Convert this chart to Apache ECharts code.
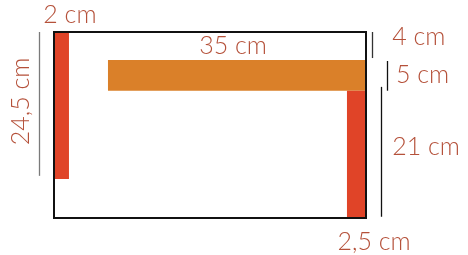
<!DOCTYPE html>
<html>
<head>
<meta charset="utf-8">
<script src="https://cdn.jsdelivr.net/npm/echarts@6/dist/echarts.min.js"></script>
<style>
  html, body { margin: 0; padding: 0; background: #fff; }
  #chart { width: 468px; height: 255px; }
</style>
</head>
<body>
<div id="chart"></div>
<script>
// drawing units (schematic, not to scale)
var frameSize = [50, 30];
var blockNames = ['left post', 'beam', 'right post'];
var blockX0 = [0, 8.65, 46.95];
var blockX1 = [2.4, 50, 50];
var blockY0 = [0, 4.52, 9.47];
var blockY1 = [23.7, 9.47, 30];

// dimension lines
var dimX = [-2.45, 50.95, 53.4, 52.4];
var dimY0 = [0, 0, 4.68, 8.85];
var dimY1 = [23.2, 4.2, 9.47, 29.8];

// labels
var dimLabels = ['2 cm', '24,5 cm', '35 cm', '4 cm', '5 cm', '21 cm', '2,5 cm'];

var blockColors = ['#e04428', '#da8029', '#e04428'];
var lineColors = ['#7a7a7a', '#333', '#111', '#111'];
// label anchors [x, y, align, rotate]
var labelPos = [
    [2.55, -2.75, 'center', 0],
    [28.7, 2.25, 'center', 0],
    [54.2, 0.8, 'left', 0],
    [54.8, 7.0, 'left', 0],
    [54.2, 18.5, 'left', 0],
    [51.3, 33.9, 'center', 0],
    [-5.35, 11.2, 'center', 90]
];
var labelOrder = [0, 2, 3, 4, 5, 6, 1];

function CF_Diagram(_domID){
    var myChart = echarts.init(document.getElementById(_domID));
    var option = {
        animation: false,
        grid: {
            left: 54,
            top: 32,
            width: 312,
            height: 186
        },
        xAxis: {type: 'value', min: 0, max: frameSize[0], show: false},
        yAxis: {type: 'value', min: 0, max: frameSize[1], inverse: true, show: false},
        series: [
            {
                type: 'custom',
                name: 'blocks',
                clip: false,
                data: blockNames.map(function (n, i) {
                    return [blockX0[i], blockY0[i], blockX1[i], blockY1[i]];
                }),
                renderItem: function (params, api) {
                    var p0 = api.coord([api.value(0), api.value(1)]);
                    var p1 = api.coord([api.value(2), api.value(3)]);
                    return {
                        type: 'rect',
                        shape: {x: p0[0], y: p0[1], width: p1[0] - p0[0], height: p1[1] - p0[1]},
                        style: {fill: blockColors[params.dataIndex]}
                    };
                }
            },
            {
                type: 'custom',
                name: 'frame',
                clip: false,
                z: 5,
                data: [[0, 0, frameSize[0], frameSize[1]]],
                renderItem: function (params, api) {
                    var p0 = api.coord([api.value(0), api.value(1)]);
                    var p1 = api.coord([api.value(2), api.value(3)]);
                    return {
                        type: 'rect',
                        shape: {x: p0[0], y: p0[1], width: p1[0] - p0[0], height: p1[1] - p0[1]},
                        style: {fill: null, stroke: '#111', lineWidth: 2}
                    };
                }
            },
            {
                type: 'custom',
                name: 'dims',
                clip: false,
                data: dimX.map(function (x, i) { return [x, dimY0[i], dimY1[i]]; }),
                renderItem: function (params, api) {
                    var a = api.coord([api.value(0), api.value(1)]);
                    var b = api.coord([api.value(0), api.value(2)]);
                    return {
                        type: 'line',
                        shape: {x1: Math.round(a[0]) + 0.5, y1: a[1], x2: Math.round(b[0]) + 0.5, y2: b[1]},
                        style: {stroke: lineColors[params.dataIndex], lineWidth: 1.3}
                    };
                }
            },
            {
                type: 'custom',
                name: 'labels',
                clip: false,
                data: labelOrder.map(function (k, i) { return [labelPos[i][0], labelPos[i][1], k]; }),
                renderItem: function (params, api) {
                    var i = params.dataIndex;
                    var p = api.coord([api.value(0), api.value(1)]);
                    return {
                        type: 'text',
                        x: p[0],
                        y: p[1],
                        rotation: labelPos[i][3] * Math.PI / 180,
                        style: {
                            text: dimLabels[api.value(2)],
                            align: labelPos[i][2],
                            verticalAlign: 'middle',
                            fill: '#b5513a',
                            font: '300 25px Lato, "Open Sans", sans-serif'
                        }
                    };
                }
            }
        ]
    };
    myChart.setOption(option);
    return myChart;
}

CF_Diagram('chart');
</script>
</body>
</html>
